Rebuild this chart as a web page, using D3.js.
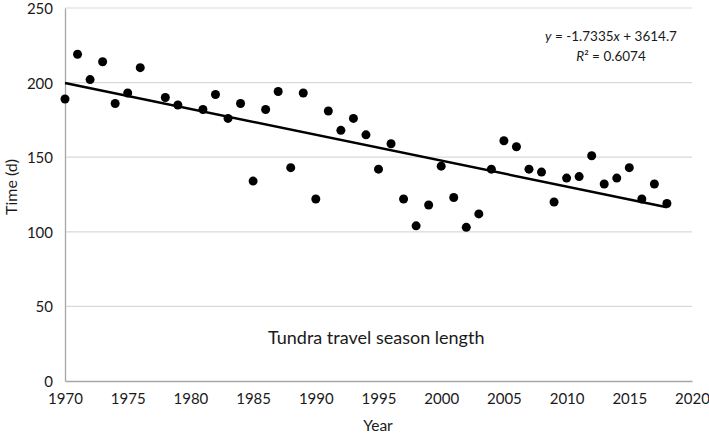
<!DOCTYPE html>
<html><head><meta charset="utf-8">
<script src="https://cdn.jsdelivr.net/npm/d3@7"></script>
<style>body{margin:0;background:#fff}svg{display:block}text{font-family:Lato,"Open Sans",sans-serif;fill:#1a1a1a}</style>
</head><body><svg id="c" width="709" height="434"></svg>
<script>
const years = [1970,1971,1972,1973,1974,1975,1976,1978,1979,1981,1982,1983,1984,1985,1986,1987,1988,1989,1990,1991,1992,1993,1994,1995,1996,1997,1998,1999,2000,2001,2002,2003,2004,2005,2006,2007,2008,2009,2010,2011,2012,2013,2014,2015,2016,2017,2018];
const days = [189,219,202,214,186,193,210,190,185,182,192,176,186,134,182,194,143,193,122,181,168,176,165,142,159,122,104,118,144,123,103,112,142,161,157,142,140,120,136,137,151,132,136,143,122,132,119];
const xTicks = [1970,1975,1980,1985,1990,1995,2000,2005,2010,2015,2020];
const yTicks = [0,50,100,150,200,250];
const slope = -1.7335, intercept = 3614.7;
const trendYears = [1970, 2018];

const svg = d3.select("#c");
const x = d3.scaleLinear().domain([1970,2020]).range([65,692]);
const y = d3.scaleLinear().domain([0,250]).range([381,8]);

svg.append("g").selectAll("line").data(yTicks.filter(d=>d>0)).join("line")
  .attr("x1",x(1970)).attr("x2",x(2020)).attr("y1",d=>y(d)).attr("y2",d=>y(d))
  .attr("stroke","#d9d9d9").attr("stroke-width",1.2);

const xa = svg.append("g").attr("transform",`translate(0,${y(0)})`)
  .call(d3.axisBottom(x).tickValues(xTicks).tickFormat(d3.format("d")).tickSize(0).tickPadding(12));
const ya = svg.append("g").attr("transform",`translate(${x(1970)},0)`)
  .call(d3.axisLeft(y).tickValues(yTicks).tickSize(0).tickPadding(12));
[xa,ya].forEach(a=>{
  a.select(".domain").attr("stroke","#a6a6a6").attr("stroke-width",1.3);
  a.selectAll("text").attr("font-size",15).attr("font-family","Lato,'Open Sans',sans-serif").attr("fill","#1a1a1a");
});
ya.selectAll(".tick text").attr("dy","0.36em");

svg.append("line")
  .attr("x1",x(trendYears[0])).attr("y1",y(slope*trendYears[0]+intercept))
  .attr("x2",x(trendYears[1])).attr("y2",y(slope*trendYears[1]+intercept))
  .attr("stroke","#000").attr("stroke-width",2.5);

svg.append("g").selectAll("circle").data(years).join("circle")
  .attr("cx",d=>x(d)).attr("cy",(d,i)=>y(days[i])).attr("r",4.5).attr("fill","#000");

svg.append("text").attr("x",611).attr("y",41).attr("text-anchor","middle").attr("font-size",13.5)
  .html('<tspan font-style="italic">y</tspan> = -1.7335<tspan font-style="italic">x</tspan> + 3614.7');
svg.append("text").attr("x",611).attr("y",61).attr("text-anchor","middle").attr("font-size",13.5)
  .html('<tspan font-style="italic">R</tspan>² = 0.6074');
svg.append("text").attr("x",268).attr("y",344).attr("font-size",18).text("Tundra travel season length");
svg.append("text").attr("x",378).attr("y",431).attr("text-anchor","middle").attr("font-size",15.5).text("Year");
svg.append("text").attr("transform","translate(17,187) rotate(-90)").attr("text-anchor","middle").attr("font-size",16).text("Time (d)");
</script></body></html>
